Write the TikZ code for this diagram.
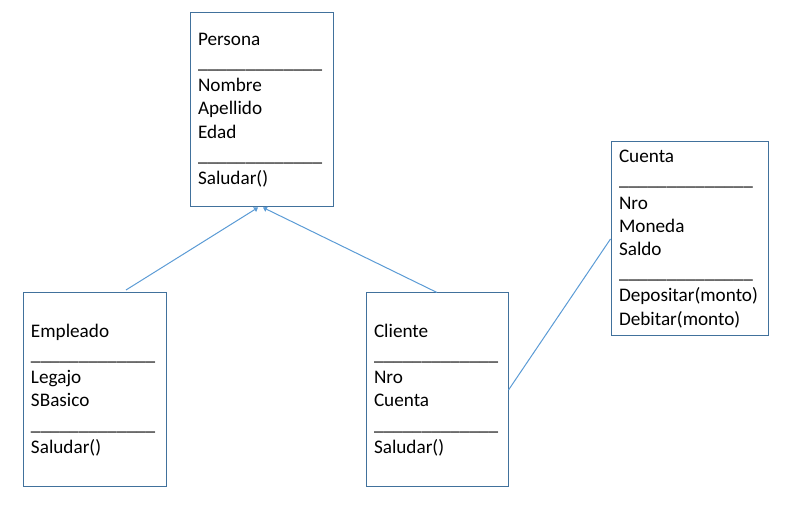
\documentclass[tikz,border=0pt]{standalone}
\usepackage{fontspec}
\setmainfont{Carlito}
\usetikzlibrary{arrows.meta}
\definecolor{boxblue}{HTML}{41719C}
\definecolor{lineblue}{HTML}{5B9BD5}
\newcommand\sepline[1][13]{\foreach\k in {1,...,#1}{\_}}
\begin{document}
\begin{tikzpicture}[x=0.75pt,y=-0.75pt]
        % Styles
        \tikzstyle{class box}=[draw=boxblue,line width=0.75pt,rectangle,align=left,inner xsep=6pt,minimum height=145.5pt,font=\fontsize{14.4}{17.4}\selectfont]
        \tikzstyle{link}=[draw=lineblue,line width=0.75pt]
        \tikzstyle{inherits}=[link,-{Triangle[width=4pt,length=3pt]}]
        %The graphic
        \useasboundingbox (0,0) rectangle (794,523);
        %classes
        \node[class box,text width=95.25pt] (persona) at (261.5,110) {Persona\\\sepline\\Nombre\\Apellido\\Edad\\\sepline\\Saludar()};
        \node[class box,text width=95.25pt] (empleado) at (94.5,390) {Empleado\\\sepline\\Legajo\\SBasico\\\sepline\\Saludar()};
        \node[class box,text width=94.5pt] (cliente) at (437,390) {Cliente\\\sepline\\Nro\\Cuenta\\\sepline\\Saludar()};
        \node[class box,text width=105.75pt] (cuenta) at (689.5,239) {Cuenta\\\sepline[14]\\Nro\\Moneda\\Saldo\\\sepline[14]\\Depositar(monto)\\Debitar(monto)};
        %links
        \coordinate (empleado top) at (126,290);
        \coordinate (persona left) at ([xshift=-2.6pt]persona.south);
        \coordinate (persona right) at ([xshift=1.1pt]persona.south);
        \draw[inherits] (empleado top) -- (persona left);
        \draw[inherits] (cliente.north) -- (persona right);
        \draw[link] (cuenta.west) -- (cliente.east);
    \end{tikzpicture}
\end{document}
